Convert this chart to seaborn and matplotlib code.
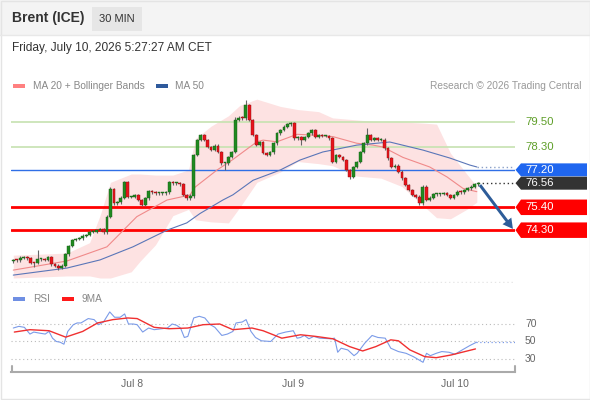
import numpy as np
import pandas as pd
import matplotlib
matplotlib.use("Agg")
import matplotlib.pyplot as plt
from matplotlib.patches import Rectangle, Polygon
import seaborn as sns

# ---- data (30 min candles, index 0..134) ----
first_open = 72.80
closes = [72.87, 72.85, 72.98, 73.02, 72.95, 72.73, 72.71, 72.90, 72.90, 72.87,
          73.02, 72.66, 72.60, 72.47, 72.60, 73.14, 73.55, 73.83, 73.88, 73.91,
          74.04, 74.07, 74.23, 74.23, 74.31, 74.36, 74.20, 74.95, 76.28, 75.59,
          75.64, 75.86, 76.60, 75.90, 75.90, 75.99, 75.75, 75.50, 75.83, 76.18,
          76.12, 76.07, 76.07, 76.07, 76.12, 76.60, 76.55, 76.55, 76.50, 75.99,
          75.83, 75.96, 77.91, 78.63, 78.88, 78.63, 78.31, 78.15, 78.36, 78.07,
          77.51, 77.51, 77.83, 78.07, 79.60, 79.71, 79.68, 80.32, 79.60, 78.88,
          78.39, 78.55, 78.00, 77.91, 78.04, 78.47, 78.96, 79.12, 79.28, 79.39,
          79.44, 78.71, 78.79, 78.63, 78.79, 78.96, 79.12, 78.79, 78.88, 78.84,
          78.84, 78.71, 77.59, 77.91, 77.83, 77.67, 77.19, 76.87, 77.35, 77.59,
          78.07, 78.47, 78.88, 78.63, 78.71, 78.63, 78.66, 78.23, 77.75, 77.35,
          77.40, 77.11, 76.79, 76.47, 76.23, 75.99, 75.91, 75.59, 76.39, 75.75,
          75.86, 76.02, 76.02, 76.04, 76.07, 75.99, 75.86, 75.99, 76.15, 76.12,
          76.23, 76.31, 76.39, 76.50, 76.56]
long_highs = {7: 73.35, 28: 76.40, 64: 79.75, 67: 80.56, 102: 79.20, 118: 76.45}
long_lows = {6: 72.54, 13: 72.40, 52: 75.85, 61: 77.20, 83: 78.39, 97: 76.78, 117: 75.50}

ma20_x = [0, 15.5, 27, 35.6, 44.3, 50.9, 52.4, 58.7, 63.3, 70.2, 72, 76, 81.8, 85.5,
          92.1, 99, 103.7, 106.5, 112.3, 120, 125, 129.6, 133.6]
ma20 = [72.38, 72.82, 73.5, 74.95, 75.75, 75.99, 76.37, 77.19, 77.7, 78.55, 78.63, 78.55,
        78.91, 78.88, 78.8, 78.48, 78.39, 78.3, 77.8, 77.34, 76.86, 76.31, 76.15]

ma50_x = [0, 15.5, 25, 34.5, 44.3, 50, 53.8, 60.4, 63.3, 69.1, 76.9, 82.6, 89.2, 99,
          108.5, 118.1, 125.8, 131.6, 133.6]
ma50 = [72.14, 72.48, 72.87, 73.5, 74.3, 74.65, 75.1, 75.75, 76.0, 76.7, 77.19, 77.67,
        78.06, 78.39, 78.54, 78.15, 77.77, 77.43, 77.34]

band_x = [0, 8, 15.5, 22, 25, 28, 34, 36.5, 41, 46, 50.5, 52.5, 57, 62, 65.3, 70.2,
          77, 82, 88, 92, 99, 106, 112, 118, 122, 126, 130.7, 133.6]
band_up = [73.1, 73.15, 73.2, 73.7, 75.0, 76.6, 77.0, 77.0, 76.95, 76.95, 77.2, 78.7,
           79.3, 79.8, 80.3, 80.6, 80.25, 80.1, 80.0, 79.7, 79.6, 79.5, 79.5, 79.45,
           79.4, 78.0, 77.0, 76.4]
band_lo = [72.0, 72.05, 72.1, 72.1, 72.0, 72.0, 72.3, 72.8, 73.6, 75.0, 75.3, 74.8,
           74.7, 74.65, 75.4, 76.6, 77.1, 77.6, 77.5, 77.4, 76.9, 76.8, 76.4, 75.5,
           74.9, 74.85, 75.3, 75.65]

rsi_x = [0, 1.6, 3.2, 4.8, 5.9, 7.5, 9.2, 10.3, 11.3, 12.4, 13.5, 14.6, 15.7, 17.3,
         18.4, 19.5, 21.6, 23.3, 24.6, 26, 27.8, 29.2, 30.8, 32.1, 33.2, 34.6, 35.7,
         37.3, 39, 40.6, 42.8, 44.4, 45.8, 47.1, 48.2, 49.3, 50.3, 52, 53.6, 55.2,
         56.8, 58.1, 60.1, 61.7, 63.3, 64.2, 66, 67.1, 68.5, 69.8, 71.5, 74.2, 76.3,
         78.5, 80.7, 81.8, 82.8, 83.9, 85.2, 86.6, 88.3, 91.5, 92.6, 93.5, 94.5, 96.4,
         98.2, 99.1, 101.3, 103.4, 105.1, 107.2, 108.8, 111, 113.2, 115.3, 118.1,
         119.1, 120.2, 121.9, 123.5, 125.6, 127.3, 129.4, 131.6, 133.5]
rsi = [65.4, 67.3, 66.2, 58.5, 60.8, 59.6, 58.5, 61.5, 53.8, 50, 49.2, 46.9, 61.5,
       69.2, 71.2, 71.2, 76.2, 75, 69.2, 72.3, 83.8, 77.7, 77.7, 81.5, 70, 70, 69.2,
       60.8, 65.4, 63.5, 64.6, 65.4, 70, 68.5, 65.4, 54.6, 55.8, 76.9, 78.8, 76.9,
       69.2, 66.2, 56.9, 58.5, 61.5, 71.2, 72.3, 75, 61.5, 54.6, 50.8, 50, 58.5,
       60.8, 62.3, 53.8, 54.6, 56.9, 53.1, 55.8, 53.8, 53.1, 53.8, 37.7, 42.3, 40.4,
       33.8, 36.5, 48.1, 56.9, 54.6, 53.8, 42.3, 38.5, 36.5, 32.7, 26.2, 36.5, 33.8,
       36.5, 38.5, 37.7, 35.4, 40.4, 45.4, 49.2]
ma9_x = [0.3, 4.8, 10.3, 15.1, 20, 24.3, 28.7, 33, 35.7, 40.6, 44.9, 50.3, 54.7,
         59.5, 63.3, 68.8, 72, 77.4, 82.8, 87.2, 92.1, 96.9, 100.7, 104.5, 108.8,
         111, 114.3, 118.6, 121.9, 126.2, 133.2]
ma9 = [60.8, 63.5, 62.3, 55, 61.5, 71.2, 75, 76.9, 76.2, 66.2, 64.6, 65.4, 69.2, 70,
       63.5, 65.4, 62.3, 53.8, 57.7, 55.8, 53.1, 44.2, 39.2, 44.2, 51.9, 50.8, 40.4,
       32.7, 31.5, 34.6, 41.5]

date_ticks = [34.2, 80.6, 127.2]
date_labels = ["Jul 8", "Jul 9", "Jul 10"]
green_levels = [79.50, 78.30]
blue_level = 77.20
last_price = 76.56
red_levels = [75.40, 74.30]
rsi_levels = [70, 50, 30]

# ---- figure ----
sns.set_theme(style="white")
plt.rcParams['font.family'] = ['Liberation Sans', 'DejaVu Sans']

W, H = 590, 400
fig = plt.figure(figsize=(W / 100, H / 100), dpi=100)
fig.patch.set_facecolor("white")

ov = fig.add_axes([0, 0, 1, 1], zorder=5)
ov.set_xlim(0, W)
ov.set_ylim(H, 0)
ov.axis("off")

ax = fig.add_axes([11 / W, 1 - 283 / H, 504 / W, 188 / H], zorder=2)
ax.set_facecolor("none")
ax.set_xlim(-0.66, 144.6)
ax.set_ylim(71.76, 80.80)
ax.axis("off")

rax = fig.add_axes([11 / W, 1 - 372 / H, 504 / W, 62 / H], zorder=2)
rax.set_facecolor("none")
rax.set_xlim(-0.66, 144.6)
rax.set_ylim(15.14, 86)


def ypx(a, v):
    return H - a.transData.transform((0, v))[1]


def xpx(a, v):
    return a.transData.transform((v, 0))[0]


# header
ov.add_patch(Rectangle((0, 0), W, 35, color="#f4f4f4", lw=0))
ov.plot([0, W], [35, 35], color="#e8e8e8", lw=1)
ov.add_patch(Rectangle((0.5, 0.5), W - 1, H - 1.5, fill=False, ec="#e4e4e4", lw=1))
ov.text(12, 18, "Brent (ICE)", fontsize=10, fontweight="bold", color="#333333", va="center")
ov.add_patch(Rectangle((92, 7), 50, 24, color="#e6e6e6", lw=0))
ov.text(117, 19, "30 MIN", fontsize=8, color="#333333", va="center", ha="center")
ov.text(12, 48, "Friday, July 10, 2026 5:27:27 AM CET", fontsize=8.6, color="#333333", va="center")

# legends
ov.add_patch(Rectangle((13, 84), 12, 4, color="#ff8080", lw=0))
ov.text(33, 86, "MA 20 + Bollinger Bands", fontsize=7.3, color="#888888", va="center")
ov.add_patch(Rectangle((156, 84), 12, 4, color="#2f5a9c", lw=0))
ov.text(175, 86, "MA 50", fontsize=7.3, color="#888888", va="center")
ov.text(581, 86, "Research \u00a9 2026 Trading Central", fontsize=7.3, color="#999999",
        va="center", ha="right")
ov.add_patch(Rectangle((13, 297), 12, 4, color="#6f8fe3", lw=0))
ov.text(33, 299, "RSI", fontsize=7.3, color="#888888", va="center")
ov.add_patch(Rectangle((62, 297), 12, 4, color="#ff1a1a", lw=0))
ov.text(82, 299, "9MA", fontsize=7.3, color="#888888", va="center")

# bollinger band + MAs
ax.fill_between(band_x, band_lo, band_up, color="#fde2e2", lw=0, zorder=0)
for lv in green_levels:
    ax.axhline(lv, color="#c6e2b0", lw=1.2, zorder=1)
ax.axhline(blue_level, color="#2f6fe6", lw=1, zorder=1)
for lv in red_levels:
    ax.axhline(lv, color="#ff0000", lw=2, zorder=1)

ma_df = pd.DataFrame({"x": ma20_x, "y": ma20})
sns.lineplot(data=ma_df, x="x", y="y", ax=ax, color="#f08a8a", lw=0.8, zorder=2,
             errorbar=None, legend=False)
ma50_df = pd.DataFrame({"x": ma50_x, "y": ma50})
sns.lineplot(data=ma50_df, x="x", y="y", ax=ax, color="#5a76b8", lw=0.8, zorder=2,
             errorbar=None, legend=False)
ax.plot([ma50_x[-1], 144.6], [ma50[-1], ma50[-1]], color="#8aa0c8", lw=1, ls=(0, (1, 2)))
ax.plot([len(closes) - 1, 144.6], [last_price, last_price], color="#333333", lw=1, ls=(0, (1, 2)))
ax.axhline(71.8, color="#e6e6e6", lw=1, ls=(0, (1, 2)))

# candles
df = pd.DataFrame({"c": closes})
df["o"] = [first_open] + closes[:-1]
df["hi"] = df[["o", "c"]].max(axis=1) + 0.06
df["lo"] = df[["o", "c"]].min(axis=1) - 0.06
for k, v in long_highs.items():
    df.loc[k, "hi"] = v
for k, v in long_lows.items():
    df.loc[k, "lo"] = v
idx = np.arange(len(df))
up = df["c"] >= df["o"]
body = (df["c"] - df["o"]).abs().clip(lower=0.05)
bot = df[["o", "c"]].min(axis=1)
ax.vlines(idx, df["lo"], df["hi"], color="#666666", lw=0.8, zorder=3)
ax.bar(idx[up], body[up], bottom=bot[up], width=0.8, color="#208a20",
       edgecolor="#145c14", lw=0.3, zorder=4)
ax.bar(idx[~up], body[~up], bottom=bot[~up], width=0.8, color="#e8141c",
       edgecolor="#8a1010", lw=0.3, zorder=4)

# right side tags
for lv in green_levels:
    ov.text(525, ypx(ax, lv), f"{lv:.2f}", fontsize=8.2, color="#5e9e28", va="center")


def tag(level, txt, color, h):
    y = ypx(ax, level)
    pts = [(515.5, y), (521, y - h / 2), (587, y - h / 2), (587, y + h / 2), (521, y + h / 2)]
    ov.add_patch(Polygon(pts, closed=True, color=color, lw=0))
    ov.text(525, y, txt, fontsize=8.2, color="white", va="center")


tag(blue_level, f"{blue_level:.2f}", "#1f66ef", 13)
tag(last_price, f"{last_price:.2f}", "#333333", 13)
for lv in red_levels:
    tag(lv, f"{lv:.2f}", "#ff0000", 15.5)

# arrow
x0, y0 = xpx(ax, 134.5), ypx(ax, 76.47)
x1, y1 = xpx(ax, 144.0), ypx(ax, 74.36)
ov.arrow(x0, y0, x1 - x0, y1 - y0, width=3, head_width=11, head_length=10,
         length_includes_head=True, color="#2d5c99", lw=0)

# RSI panel
for lv in rsi_levels:
    rax.axhline(lv, color="#bbbbbb", lw=0.8, ls=(0, (1, 2.5)))
    ov.text(525, ypx(rax, lv), str(lv), fontsize=7.5, color="#666666", va="center")
rsi_df = pd.DataFrame({"x": rsi_x, "y": rsi})
sns.lineplot(data=rsi_df, x="x", y="y", ax=rax, color="#7b9be8", lw=0.8,
             errorbar=None, legend=False)
rax.plot([rsi_x[-1], 144.6], [rsi[-1], rsi[-1]], color="#7b9be8", lw=0.9, ls=(0, (1, 2)))
ma9_df = pd.DataFrame({"x": ma9_x, "y": ma9})
sns.lineplot(data=ma9_df, x="x", y="y", ax=rax, color="#f03030", lw=1,
             errorbar=None, legend=False)

for s in ["top", "left", "right"]:
    rax.spines[s].set_visible(False)
rax.spines["bottom"].set_color("#aaaaaa")
rax.spines["bottom"].set_linewidth(1.5)
rax.set_yticks([])
rax.set_xticks(date_ticks)
rax.set_xticklabels(date_labels)
rax.tick_params(axis="x", length=0, pad=5, labelsize=7.5, labelcolor="#666666")
rax.set_xlabel("")
rax.set_ylabel("")
ax.set_xlabel("")
ax.set_ylabel("")
for xe in [11.5, 514.5]:
    ov.plot([xe, xe], [366, 372], color="#aaaaaa", lw=1.5)

fig.savefig("out.png", dpi=100)
